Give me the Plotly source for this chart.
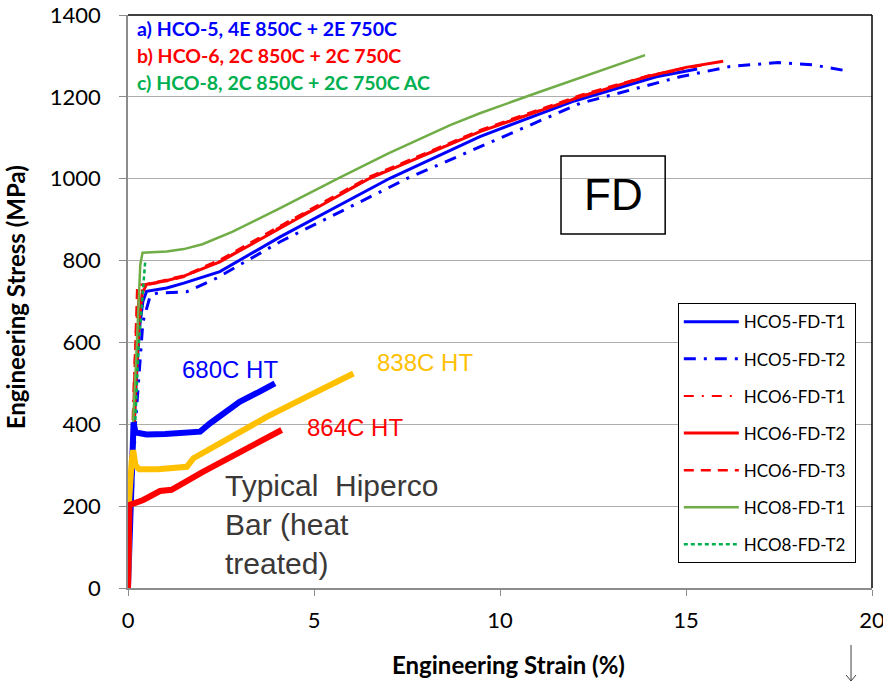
import plotly.graph_objects as go

# ---------------- data (strain %, stress MPa) ----------------
hco5_t1_x = [0, 0.1, 0.2, 0.3, 0.4, 0.5, 1.04, 1.5, 2.47, 4.09, 7.04, 9.46, 12.0, 14.2, 15.3]
hco5_t1_y = [0, 240, 470, 630, 700, 725, 733, 745, 773, 858, 1001, 1103, 1190, 1249, 1268]

hco5_t2_x = [0, 0.2, 0.4, 0.6, 0.77, 1.58, 2.38, 4.09, 7.49, 9.46, 12.15, 14.84, 16.18, 17.48, 18.42, 19.23]
hco5_t2_y = [0, 400, 650, 715, 720, 724, 757, 846, 1000, 1078, 1184, 1249, 1274, 1284, 1278, 1265]

hco6_t1_x = [0, 0.08, 0.15, 0.22, 0.3, 0.5, 1.0, 1.5, 2.5, 4.0, 6.5, 9.5, 12.2, 14.0, 15.5]
hco6_t1_y = [0, 300, 500, 650, 720, 740, 748, 760, 800, 878, 1003, 1118, 1203, 1250, 1278]

hco6_t2_x = [0, 0.1, 0.2, 0.3, 0.38, 0.5, 1.0, 1.5, 2.47, 4.09, 6.5, 9.46, 12.15, 13.94, 15.0, 16.0]
hco6_t2_y = [0, 250, 480, 650, 720, 742, 750, 762, 797, 879, 1001, 1115, 1200, 1249, 1272, 1287]

hco6_t3_x = [0, 0.1, 0.18, 0.25, 0.5, 0.9, 1.5, 2.5, 4.0, 6.5, 9.5, 12.2, 14.0, 15.3]
hco6_t3_y = [0, 300, 550, 740, 742, 750, 763, 803, 880, 1005, 1120, 1205, 1252, 1276]

hco8_t1_x = [0, 0.14, 0.23, 0.33, 0.39, 1.04, 1.5, 2.0, 2.8, 4.09, 5.65, 7.0, 8.66, 9.46, 11.0, 12.5, 13.9]
hco8_t1_y = [0, 410, 581, 790, 819, 822, 828, 840, 870, 928, 1001, 1062, 1131, 1160, 1210, 1258, 1302]

hco8_t2_x = [0, 0.1, 0.28, 0.46]
hco8_t2_y = [0, 220, 581, 795]

ht680_x = [0, 0.1, 0.15, 0.2, 0.5, 1.0, 1.5, 1.94, 2.2, 2.6, 3.0, 3.5, 3.95]
ht680_y = [0, 250, 405, 380, 375, 376, 378, 382, 402, 428, 455, 478, 500]

ht838_x = [0, 0.03, 0.1, 0.14, 0.2, 0.3, 0.8, 1.2, 1.58, 1.76, 2.5, 3.73, 5.0, 6.06]
ht838_y = [0, 215, 310, 337, 300, 290, 290, 292, 296, 317, 355, 418, 476, 524]

ht864_x = [0, 0.02, 0.04, 0.2, 0.41, 0.86, 1.17, 2.0, 3.0, 4.13]
ht864_y = [0, 100, 203, 208, 215, 237, 240, 283, 330, 386]

y_ticks = [0, 200, 400, 600, 800, 1000, 1200, 1400]
x_ticks = [0, 5, 10, 15, 20]

legend_names = ["HCO5-FD-T1", "HCO5-FD-T2", "HCO6-FD-T1", "HCO6-FD-T2",
                "HCO6-FD-T3", "HCO8-FD-T1", "HCO8-FD-T2"]

title_lines = ["a) HCO-5, 4E 850C + 2E 750C",
               "b) HCO-6, 2C 850C + 2C 750C",
               "c) HCO-8, 2C 850C + 2C 750C AC"]

# ---------------- styles ----------------
BLUE = "#0000FF"
RED = "#FF0000"
OLIVE = "#70AD47"
GREEN = "#00B050"
GOLD = "#FFC000"
CAL = "Lato, Carlito, Calibri, sans-serif"
ARI = "Liberation Sans, Arial, sans-serif"

fig = go.Figure()

pad = "\u00a0"
series = [
    (hco5_t1_x, hco5_t1_y, BLUE, "solid", 3),
    (hco5_t2_x, hco5_t2_y, BLUE, "12px,8px,3px,8px", 3),
    (hco6_t1_x, hco6_t1_y, RED, "10px,8px,2px,8px", 2),
    (hco6_t2_x, hco6_t2_y, RED, "solid", 3),
    (hco6_t3_x, hco6_t3_y, RED, "10px,7px", 2.5),
    (hco8_t1_x, hco8_t1_y, OLIVE, "solid", 2.5),
    (hco8_t2_x, hco8_t2_y, GREEN, "4px,3px", 2.5),
]
for i, (xs, ys, col, dash, w) in enumerate(series):
    fig.add_trace(go.Scatter(
        x=xs, y=ys, mode="lines", name=legend_names[i] + pad,
        line=dict(color=col, dash=dash, width=w),
        legendgroup="g%d" % i, hoverinfo="skip"))

for xs, ys, col in [(ht680_x, ht680_y, BLUE), (ht838_x, ht838_y, GOLD), (ht864_x, ht864_y, RED)]:
    fig.add_trace(go.Scatter(x=xs, y=ys, mode="lines", showlegend=False,
                             line=dict(color=col, width=6), hoverinfo="skip"))

annotations = []
title_cols = [BLUE, RED, GREEN]
title_ys = [0.977, 0.930, 0.883]
for t, c, yy in zip(title_lines, title_cols, title_ys):
    annotations.append(dict(text="<b>%s</b>" % t, xref="paper", yref="paper", x=0.009, y=yy,
                            xanchor="left", yanchor="middle", showarrow=False,
                            font=dict(family=CAL, size=19.5, color=c)))

annotations += [
    dict(text="680C HT", x=2.74, y=533, xref="x", yref="y", showarrow=False,
         font=dict(family=ARI, size=24, color=BLUE)),
    dict(text="838C HT", x=7.98, y=552, xref="x", yref="y", showarrow=False,
         font=dict(family=ARI, size=24, color=GOLD)),
    dict(text="864C HT", x=6.10, y=391, xref="x", yref="y", showarrow=False,
         font=dict(family=ARI, size=24, color=RED)),
    dict(text="Typical  Hiperco<br>Bar (heat<br>treated)", x=2.55, y=154, xref="x", yref="y",
         xanchor="left", yanchor="middle", align="left", showarrow=False,
         font=dict(family=ARI, size=30, color="#3B3838")),
    dict(text="FD", x=0.652, y=0.686, xref="paper", yref="paper", showarrow=False,
         xanchor="center", yanchor="middle",
         font=dict(family=ARI, size=44, color="#000000")),
    dict(text="<b>Engineering Strain (%)</b>", x=0.511, y=-0.134, xref="paper", yref="paper",
         showarrow=False, xanchor="center", yanchor="middle",
         font=dict(family=CAL, size=24, color="#000000")),
    dict(text="<b>Engineering Stress (MPa)</b>", x=-0.150, y=0.508, xref="paper", yref="paper",
         showarrow=False, xanchor="center", yanchor="middle", textangle=-90,
         font=dict(family=CAL, size=24, color="#000000")),
]

ax = 0.9718
dx = 0.0067
shapes = [
    dict(type="rect", xref="paper", yref="paper", x0=0.582, x1=0.722, y0=0.618, y1=0.754,
         line=dict(color="#000000", width=1.5), fillcolor="rgba(0,0,0,0)"),
    dict(type="line", xref="paper", yref="paper", x0=0, x1=1, y0=1, y1=1,
         line=dict(color="#000000", width=1.5)),
    dict(type="line", xref="paper", yref="paper", x0=1, x1=1, y0=0, y1=1,
         line=dict(color="#000000", width=1.5)),
    # thin down arrow below the axis end
    dict(type="line", xref="paper", yref="paper", x0=ax, x1=ax, y0=-0.0995, y1=-0.1623,
         line=dict(color="#404040", width=1)),
    dict(type="path", xref="paper", yref="paper",
         path="M %f,%f L %f,%f L %f,%f" % (ax - dx, -0.1518, ax, -0.1623, ax + dx, -0.1518),
         line=dict(color="#404040", width=1)),
]

fig.update_layout(
    width=883, height=682,
    margin=dict(l=128, r=11, t=15, b=94, autoexpand=False),
    paper_bgcolor="white", plot_bgcolor="white",
    annotations=annotations, shapes=shapes,
    showlegend=True,
    legend=dict(x=0.739, y=0.497, xanchor="left", yanchor="top",
                bgcolor="white", bordercolor="#000000", borderwidth=1,
                font=dict(family=CAL, size=17, color="#000000"),
                tracegroupgap=12, itemwidth=55),
    xaxis=dict(range=[0, 20], tickvals=x_ticks, showgrid=False, zeroline=False,
               showline=True, linecolor="#8C8C8C", linewidth=1.5,
               ticks="outside", ticklen=6, tickcolor="#8C8C8C",
               tickfont=dict(family=CAL, size=22, color="#000000"),
               ticklabelstandoff=6, ticklabeloverflow="allow", automargin=False),
    yaxis=dict(range=[0, 1400], tickvals=y_ticks, showgrid=True, gridcolor="#ADADAD",
               gridwidth=1, zeroline=False,
               showline=True, linecolor="#8C8C8C", linewidth=1.5,
               ticks="outside", ticklen=7, tickcolor="#8C8C8C",
               tickfont=dict(family=CAL, size=22, color="#000000"),
               ticklabelstandoff=14, automargin=False),
)

fig.write_html("out.html")
